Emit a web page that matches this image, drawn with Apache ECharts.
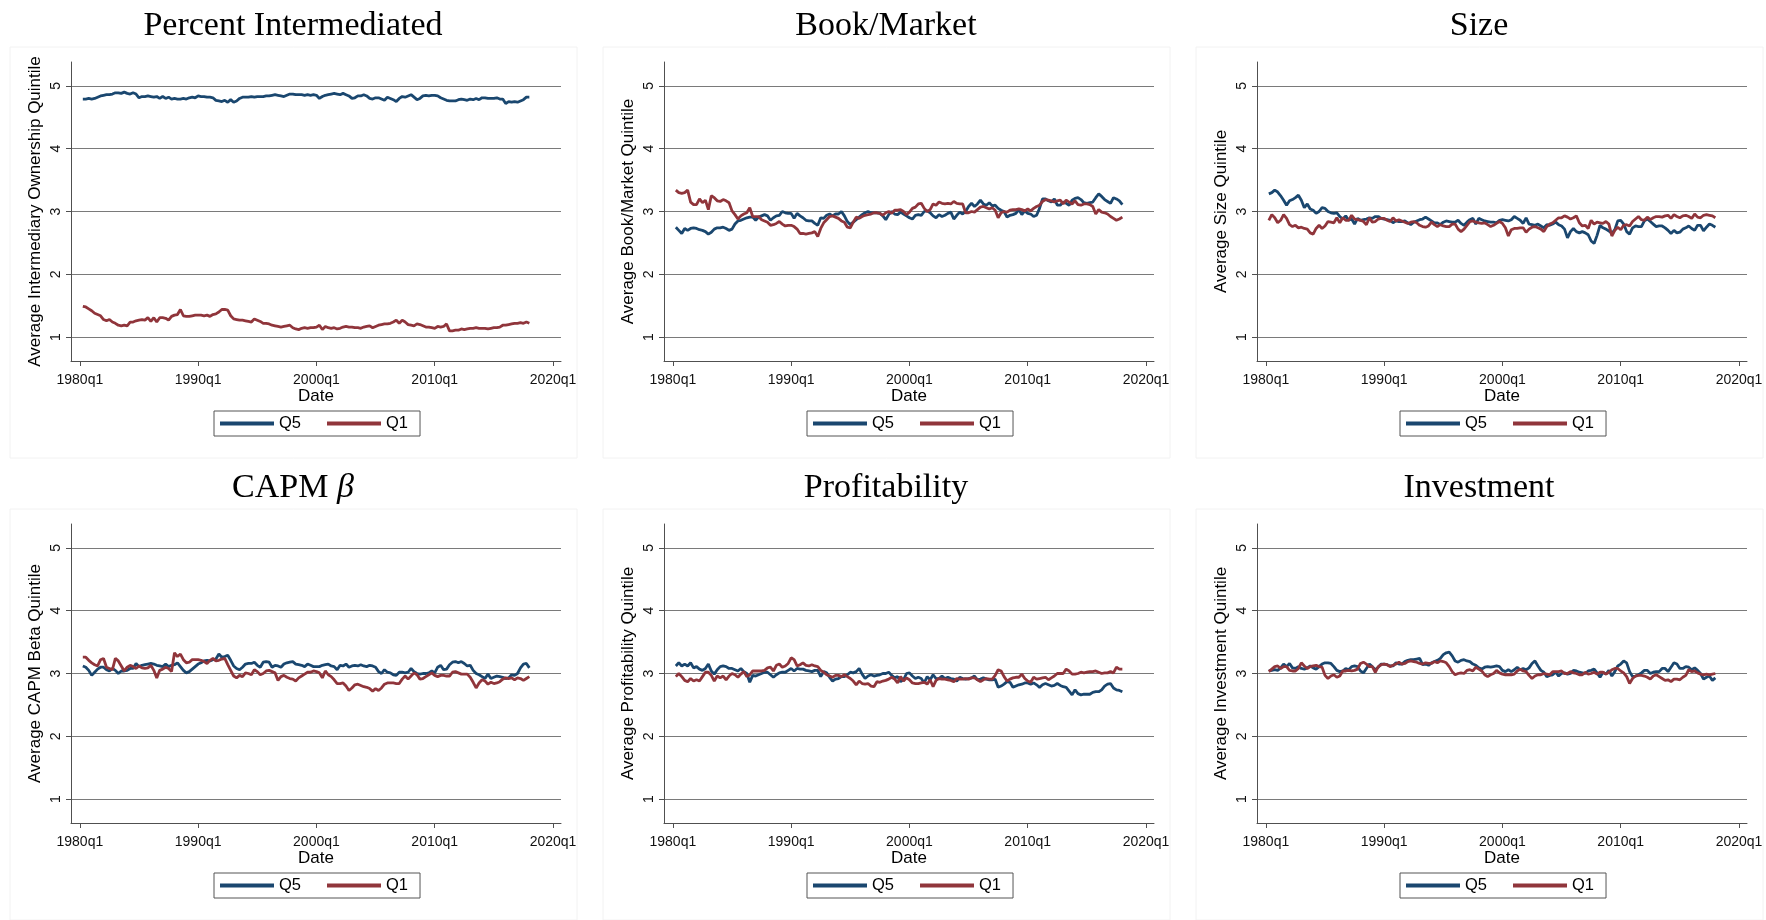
<!DOCTYPE html>
<html>
<head>
<meta charset="utf-8">
<title>Quintile characteristics over time</title>
<script src="https://cdn.jsdelivr.net/npm/echarts@6/dist/echarts.min.js"></script>
<style>
  html, body { margin: 0; padding: 0; background: #ffffff; }
  #chart { width: 1766px; height: 920px; }
</style>
</head>
<body>
<div id="chart"></div>
<script>
// Stata-style quarterly index: 1960q1 = 0, so 1980q2 = 81
const firstQuarter = 81;
const xTickQuarters = [80, 120, 160, 200, 240];
const yTicks = [1, 2, 3, 4, 5];
const seriesNames = ['Q5', 'Q1'];

const panelTitles = ['Percent Intermediated', 'Book/Market', 'Size', 'CAPM \u03b2', 'Profitability', 'Investment'];
const axisTitles = [
  'Average Intermediary Ownership Quintile',
  'Average Book/Market Quintile',
  'Average Size Quintile',
  'Average CAPM Beta Quintile',
  'Average Profitability Quintile',
  'Average Investment Quintile'
];

// Percent intermediated, 1980q2 - 2018q1
const pctQ5 = [
  4.79,4.79,4.80,
  4.79,4.80,4.82,4.84, 4.85,4.86,4.86,4.87, 4.89,4.89,4.88,4.90, 4.88,4.87,4.89,4.87,
  4.81,4.83,4.83,4.84, 4.83,4.82,4.83,4.80, 4.83,4.80,4.82,4.79, 4.80,4.79,4.79,4.80,
  4.79,4.81,4.82,4.81, 4.84,4.83,4.83,4.82, 4.82,4.81,4.77,4.76, 4.75,4.77,4.74,4.78,
  4.74,4.76,4.80,4.82, 4.82,4.82,4.83,4.82, 4.83,4.83,4.83,4.84, 4.84,4.85,4.86,4.85,
  4.84,4.83,4.85,4.87, 4.87,4.86,4.86,4.86, 4.85,4.86,4.85,4.86, 4.85,4.80,4.83,4.85,
  4.86,4.87,4.88,4.87, 4.86,4.88,4.86,4.84, 4.80,4.81,4.84,4.84, 4.86,4.84,4.80,4.79,
  4.81,4.81,4.79,4.77, 4.82,4.80,4.78,4.75, 4.80,4.83,4.82,4.84, 4.86,4.82,4.78,4.80,
  4.84,4.85,4.84,4.85, 4.85,4.84,4.81,4.79, 4.77,4.76,4.76,4.76, 4.78,4.79,4.78,4.77,
  4.79,4.78,4.80,4.78, 4.81,4.81,4.80,4.80, 4.80,4.81,4.79,4.79, 4.72,4.75,4.74,4.75,
  4.74,4.76,4.78,4.82,
  4.82
];
const pctQ1 = [
  1.49,1.48,1.45,
  1.42,1.38,1.36,1.34, 1.28,1.26,1.28,1.24, 1.22,1.19,1.18,1.19, 1.18,1.24,1.24,1.26,
  1.27,1.28,1.27,1.31, 1.25,1.31,1.24,1.31, 1.31,1.30,1.27,1.33, 1.35,1.36,1.44,1.34,
  1.33,1.33,1.34,1.35, 1.35,1.35,1.34,1.35, 1.33,1.36,1.37,1.40, 1.44,1.44,1.43,1.34,
  1.29,1.28,1.27,1.27, 1.26,1.25,1.24,1.29, 1.27,1.25,1.22,1.22, 1.21,1.19,1.18,1.17,
  1.16,1.17,1.18,1.19, 1.15,1.13,1.12,1.14, 1.15,1.14,1.15,1.15, 1.16,1.19,1.12,1.17,
  1.15,1.14,1.15,1.13, 1.14,1.16,1.17,1.16, 1.16,1.15,1.15,1.14, 1.16,1.17,1.18,1.15,
  1.17,1.19,1.20,1.21, 1.21,1.22,1.24,1.27, 1.22,1.27,1.24,1.20, 1.19,1.18,1.21,1.20,
  1.18,1.16,1.16,1.15, 1.14,1.17,1.16,1.17, 1.21,1.10,1.10,1.11, 1.11,1.13,1.12,1.13,
  1.14,1.14,1.15,1.14, 1.14,1.14,1.13,1.14, 1.15,1.15,1.16,1.19, 1.19,1.20,1.21,1.22,
  1.22,1.23,1.22,1.24,
  1.22
];

// Book/market
const bmQ5 = [
  2.75,2.70,2.65,
  2.73,2.70,2.73,2.74, 2.73,2.71,2.70,2.68, 2.64,2.67,2.72,2.74, 2.74,2.75,2.73,2.70,
  2.72,2.80,2.85,2.86, 2.88,2.90,2.91,2.91, 2.86,2.91,2.93,2.95, 2.93,2.86,2.90,2.93,
  2.94,3.00,2.98,2.97, 2.97,2.89,2.97,2.93, 2.90,2.86,2.85,2.85, 2.81,2.78,2.90,2.89,
  2.94,2.96,2.93,2.96, 2.96,3.00,2.93,2.84, 2.79,2.83,2.87,2.91, 2.95,2.98,3.00,2.98,
  2.98,2.98,2.97,2.93, 2.87,2.95,3.00,2.96, 2.95,2.99,2.96,2.93, 2.90,2.88,2.94,2.95,
  2.94,3.00,3.01,2.98, 2.93,2.90,2.95,2.92, 2.94,2.97,2.99,2.88, 2.94,2.99,2.96,3.00,
  3.08,3.13,3.08,3.12, 3.18,3.12,3.10,3.14, 3.09,3.10,3.05,3.02, 3.00,2.91,2.94,2.95,
  2.97,3.03,2.95,3.01, 2.97,2.96,2.92,2.94, 3.05,3.20,3.20,3.17, 3.15,3.20,3.10,3.10,
  3.15,3.13,3.10,3.18, 3.21,3.22,3.19,3.14, 3.13,3.14,3.15,3.22, 3.28,3.24,3.19,3.16,
  3.13,3.22,3.20,3.17,
  3.11
];
const bmQ1 = [
  3.34,3.30,3.29,
  3.30,3.34,3.15,3.11, 3.11,3.20,3.14,3.18, 3.03,3.25,3.22,3.17, 3.16,3.19,3.17,3.14,
  3.01,2.95,2.88,2.93, 2.96,2.98,3.06,2.92, 2.92,2.92,2.87,2.85, 2.83,2.78,2.79,2.81,
  2.84,2.80,2.77,2.78, 2.78,2.76,2.72,2.65, 2.65,2.64,2.65,2.66, 2.68,2.60,2.73,2.82,
  2.87,2.92,2.93,2.91, 2.89,2.85,2.83,2.75, 2.74,2.83,2.91,2.89, 2.92,2.94,2.95,2.96,
  2.98,2.98,2.97,2.94, 2.98,3.00,2.97,3.02, 3.02,3.03,3.00,2.95, 2.99,3.05,3.07,3.12,
  3.13,3.05,3.00,3.03, 3.12,3.10,3.15,3.13, 3.12,3.13,3.12,3.16, 3.13,3.12,3.12,2.98,
  2.98,3.00,2.99,3.03, 3.07,3.08,3.06,3.04, 3.06,3.02,2.90,2.98, 3.00,2.99,3.02,3.03,
  3.03,3.04,3.03,3.01, 3.04,3.01,3.05,3.08, 3.10,3.16,3.19,3.18, 3.17,3.15,3.17,3.18,
  3.12,3.18,3.15,3.12, 3.17,3.11,3.10,3.12, 3.12,3.11,3.08,2.96, 3.03,2.99,2.98,2.96,
  2.92,2.89,2.86,2.88,
  2.91
];

// Size
const sizeQ5 = [
  3.28,3.30,3.34,
  3.31,3.25,3.18,3.10, 3.17,3.19,3.22,3.26, 3.18,3.06,3.12,3.04, 3.02,2.97,3.00,3.06,
  3.05,3.00,2.98,2.97, 2.98,2.92,2.88,2.93, 2.86,2.88,2.80,2.89, 2.86,2.87,2.88,2.90,
  2.89,2.92,2.92,2.89, 2.88,2.87,2.86,2.82, 2.85,2.84,2.84,2.85, 2.82,2.79,2.83,2.85,
  2.87,2.88,2.91,2.88, 2.85,2.82,2.82,2.79, 2.83,2.85,2.84,2.83, 2.83,2.86,2.81,2.78,
  2.83,2.87,2.89,2.80, 2.89,2.87,2.85,2.84, 2.83,2.83,2.82,2.86, 2.87,2.86,2.85,2.87,
  2.92,2.89,2.86,2.81, 2.90,2.80,2.79,2.78, 2.80,2.77,2.74,2.79, 2.78,2.80,2.83,2.79,
  2.77,2.72,2.58,2.68, 2.73,2.68,2.66,2.68, 2.66,2.63,2.53,2.49, 2.62,2.78,2.74,2.72,
  2.69,2.65,2.71,2.85, 2.86,2.80,2.68,2.64, 2.74,2.77,2.76,2.76, 2.85,2.88,2.84,2.80,
  2.76,2.77,2.77,2.74, 2.70,2.65,2.70,2.66, 2.67,2.72,2.74,2.77, 2.73,2.70,2.78,2.78,
  2.69,2.75,2.80,2.78,
  2.75
];
const sizeQ1 = [
  2.86,2.95,2.90,
  2.82,2.86,2.95,2.89, 2.79,2.76,2.78,2.74, 2.75,2.73,2.72,2.66, 2.64,2.73,2.78,2.73,
  2.77,2.84,2.83,2.82, 2.90,2.82,2.90,2.86, 2.86,2.94,2.88,2.87, 2.86,2.84,2.79,2.90,
  2.83,2.84,2.88,2.89, 2.89,2.86,2.84,2.90, 2.85,2.87,2.85,2.83, 2.81,2.83,2.84,2.82,
  2.78,2.76,2.75,2.77, 2.83,2.79,2.76,2.79, 2.77,2.76,2.76,2.80, 2.80,2.72,2.68,2.72,
  2.78,2.84,2.85,2.83, 2.82,2.81,2.82,2.79, 2.76,2.78,2.81,2.84, 2.81,2.74,2.61,2.71,
  2.73,2.73,2.74,2.74, 2.67,2.72,2.75,2.76, 2.74,2.72,2.68,2.76, 2.80,2.82,2.86,2.90,
  2.90,2.93,2.91,2.88, 2.90,2.93,2.82,2.77, 2.78,2.73,2.86,2.80, 2.83,2.82,2.81,2.84,
  2.80,2.61,2.70,2.75, 2.71,2.78,2.79,2.77, 2.84,2.88,2.92,2.87, 2.86,2.91,2.87,2.90,
  2.92,2.92,2.91,2.93, 2.94,2.89,2.95,2.92, 2.90,2.93,2.94,2.92, 2.89,2.96,2.91,2.90,
  2.94,2.95,2.94,2.93,
  2.90
];

// CAPM beta
const betaQ5 = [
  3.12,3.10,3.05,
  2.97,3.02,3.07,3.10, 3.10,3.06,3.04,3.08, 3.05,3.00,3.04,3.04, 3.05,3.08,3.08,3.16,
  3.11,3.13,3.14,3.15, 3.16,3.15,3.13,3.12, 3.11,3.15,3.11,3.13, 3.14,3.17,3.11,3.05,
  3.01,3.03,3.07,3.11, 3.15,3.17,3.20,3.21, 3.20,3.22,3.23,3.31, 3.26,3.27,3.29,3.21,
  3.12,3.08,3.06,3.10, 3.15,3.16,3.16,3.18, 3.13,3.10,3.18,3.19, 3.18,3.10,3.13,3.12,
  3.10,3.15,3.17,3.18, 3.19,3.15,3.14,3.13, 3.11,3.15,3.13,3.11, 3.11,3.11,3.13,3.14,
  3.15,3.12,3.11,3.06, 3.13,3.12,3.15,3.10, 3.12,3.13,3.12,3.14, 3.12,3.11,3.13,3.12,
  3.10,3.03,3.00,3.06, 3.02,3.01,2.98,2.97, 3.02,3.02,3.01,3.02, 3.08,3.03,3.00,2.99,
  3.00,3.00,3.01,3.04, 3.01,3.10,3.13,3.06, 3.07,3.14,3.18,3.19, 3.17,3.19,3.16,3.12,
  3.13,3.05,3.00,2.98, 2.95,2.92,2.99,2.92, 2.94,2.96,2.95,2.94, 2.92,2.93,2.98,2.97,
  3.00,3.09,3.15,3.16,
  3.09
];
const betaQ1 = [
  3.26,3.26,3.21,
  3.17,3.14,3.12,3.22, 3.24,3.10,3.08,3.06, 3.24,3.20,3.12,3.04, 3.10,3.13,3.11,3.08,
  3.12,3.09,3.08,3.09, 3.13,3.05,2.93,3.05, 3.07,3.10,3.08,3.03, 3.33,3.27,3.31,3.22,
  3.17,3.18,3.22,3.22, 3.22,3.21,3.19,3.16, 3.21,3.24,3.20,3.21, 3.23,3.24,3.14,3.05,
  2.96,2.93,2.97,2.95, 3.01,3.00,2.98,3.06, 3.03,2.98,3.00,3.04, 3.05,3.03,3.01,2.89,
  2.95,2.97,2.94,2.92, 2.91,2.88,2.93,2.96, 2.99,3.02,3.02,3.04, 3.03,3.01,2.93,3.04,
  2.98,2.95,2.90,2.84, 2.84,2.85,2.80,2.73, 2.77,2.82,2.83,2.81, 2.79,2.78,2.76,2.72,
  2.76,2.73,2.77,2.83, 2.85,2.85,2.85,2.84, 2.84,2.91,2.96,2.91, 2.96,3.01,2.98,2.91,
  2.92,2.95,2.98,3.01, 2.97,2.95,2.97,2.97, 2.96,2.96,3.02,3.03, 3.01,2.99,2.99,2.99,
  2.94,2.86,2.77,2.85, 2.90,2.88,2.83,2.86, 2.84,2.85,2.87,2.91, 2.93,2.92,2.93,2.90,
  2.93,2.92,2.89,2.92,
  2.95
];

// Profitability
const profQ5 = [
  3.12,3.17,3.12,
  3.15,3.12,3.17,3.09, 3.11,3.07,3.05,3.08, 3.15,3.04,2.99,3.06, 3.11,3.12,3.11,3.08,
  3.08,3.06,3.04,3.08, 3.03,3.00,2.86,2.97, 2.96,2.98,3.00,3.02, 3.02,2.98,2.94,2.98,
  3.01,3.02,3.02,3.05, 3.08,3.04,3.08,3.07, 3.07,3.05,3.04,3.03, 3.05,3.05,2.95,3.03,
  3.01,2.94,2.88,2.91, 2.92,2.95,2.95,2.98, 3.02,3.01,3.03,3.08, 2.99,2.92,2.96,2.98,
  2.96,2.97,2.98,3.00, 3.00,3.02,2.97,2.93, 2.95,2.87,2.90,3.00, 3.01,2.96,2.92,2.94,
  2.92,2.85,2.95,2.90, 2.98,2.92,2.92,2.96, 2.92,2.94,2.92,2.91, 2.88,2.94,2.92,2.91,
  2.92,2.93,2.96,2.90, 2.91,2.93,2.91,2.90, 2.90,2.91,2.78,2.80, 2.83,2.87,2.86,2.78,
  2.80,2.82,2.83,2.85, 2.85,2.83,2.85,2.82, 2.78,2.82,2.84,2.82, 2.80,2.81,2.84,2.81,
  2.79,2.78,2.72,2.66, 2.74,2.68,2.66,2.67, 2.67,2.67,2.70,2.71, 2.71,2.74,2.80,2.83,
  2.84,2.77,2.74,2.73,
  2.71
];
const profQ1 = [
  2.95,3.00,2.95,
  2.89,2.87,2.92,2.88, 2.90,2.88,2.95,3.02, 3.02,2.97,2.88,2.96, 2.93,2.96,2.90,2.96,
  3.00,2.98,2.94,2.99, 3.03,2.95,2.98,3.04, 3.04,3.04,3.04,3.05, 3.09,3.10,3.04,3.13,
  3.15,3.10,3.12,3.16, 3.25,3.22,3.12,3.14, 3.17,3.13,3.12,3.14, 3.12,3.11,3.05,3.02,
  2.98,2.96,2.94,2.97, 2.97,2.95,2.98,2.95, 2.92,2.88,2.82,2.88, 2.84,2.83,2.84,2.80,
  2.79,2.87,2.86,2.88, 2.89,2.91,2.94,2.91, 2.85,2.95,2.88,2.93, 2.90,2.85,2.84,2.84,
  2.85,2.86,2.83,2.90, 2.79,2.89,2.92,2.91, 2.91,2.90,2.89,2.87, 2.92,2.91,2.91,2.92,
  2.91,2.93,2.93,2.90, 2.87,2.90,2.92,2.91, 2.91,2.97,3.06,3.04, 2.95,2.88,2.91,2.93,
  2.94,2.94,2.99,2.92, 2.88,2.86,2.94,2.91, 2.92,2.93,2.94,2.90, 2.93,2.96,3.00,3.00,
  3.00,3.07,3.04,2.99, 2.99,3.00,3.02,3.01, 3.02,3.03,3.03,3.04, 3.02,3.00,3.01,3.01,
  3.03,3.01,3.10,3.07,
  3.07
];

// Investment
const invQ5 = [
  3.04,3.05,3.06,
  3.05,3.09,3.15,3.11, 3.16,3.09,3.08,3.11, 3.08,3.07,3.09,3.12, 3.09,3.07,3.11,3.15,
  3.17,3.17,3.16,3.11, 3.05,3.03,3.04,3.08, 3.06,3.11,3.12,3.11, 3.04,3.01,3.08,3.15,
  3.11,3.06,3.10,3.15, 3.15,3.14,3.12,3.12, 3.17,3.15,3.15,3.19, 3.21,3.22,3.22,3.23,
  3.24,3.14,3.15,3.13, 3.17,3.19,3.21,3.24, 3.30,3.33,3.34,3.28, 3.20,3.18,3.21,3.22,
  3.20,3.19,3.15,3.13, 3.09,3.07,3.10,3.11, 3.10,3.11,3.12,3.11, 3.05,3.03,3.06,3.03,
  3.06,3.10,3.06,3.08, 3.06,3.09,3.16,3.20, 3.12,3.05,3.02,2.95, 2.97,2.98,3.02,2.96,
  3.00,3.01,2.99,3.00, 3.05,3.04,3.02,3.01, 3.00,3.04,3.05,3.07, 3.01,2.94,3.02,2.99,
  3.05,2.96,3.03,3.12, 3.15,3.20,3.17,3.03, 2.95,2.96,2.98,3.01, 3.05,3.05,3.00,3.02,
  3.03,3.03,3.08,3.08, 3.03,3.10,3.17,3.15, 3.08,3.08,3.11,3.10, 3.06,3.09,3.05,3.00,
  2.91,2.94,2.96,2.89,
  2.93
];
const invQ1 = [
  3.03,3.07,3.11,
  3.12,3.08,3.11,3.11, 3.05,3.04,3.04,3.08, 3.17,3.12,3.08,3.11, 3.12,3.13,3.11,3.10,
  2.97,2.92,2.96,2.98, 2.94,2.96,3.04,3.04, 3.05,3.04,3.05,3.07, 3.16,3.18,3.15,3.11,
  3.11,3.02,3.11,3.14, 3.15,3.14,3.11,3.13, 3.15,3.18,3.15,3.16, 3.19,3.20,3.19,3.18,
  3.16,3.15,3.17,3.16, 3.16,3.19,3.17,3.20, 3.19,3.17,3.11,3.03, 2.98,3.00,3.01,3.00,
  3.05,3.06,3.04,3.10, 3.07,3.04,2.98,2.95, 2.98,3.00,3.05,3.01, 2.99,2.98,2.98,2.98,
  2.99,3.04,3.07,3.04, 3.03,2.97,2.92,2.96, 2.98,2.98,3.00,2.99, 2.98,3.03,3.03,3.03,
  3.04,3.00,3.00,3.03, 3.01,3.00,2.98,2.98, 3.02,2.99,3.00,3.02, 2.99,3.02,3.02,2.99,
  3.02,3.06,3.08,3.08, 3.04,3.01,2.95,2.84, 2.92,2.96,2.97,2.97, 2.96,2.94,2.91,2.96,
  2.98,2.95,2.92,2.89, 2.90,2.87,2.91,2.91, 2.90,2.94,2.97,3.06, 3.03,3.04,3.01,2.99,
  2.98,2.99,2.98,2.99,
  3.00
];

const panelData = [
  [pctQ5, pctQ1],
  [bmQ5, bmQ1],
  [sizeQ5, sizeQ1],
  [betaQ5, betaQ1],
  [profQ5, profQ1],
  [invQ5, invQ1]
];

const lineColors = ['#1a476f', '#90353b'];
const sansFont = '"Liberation Sans", Arial, Helvetica, sans-serif';
const serifFont = '"Liberation Serif", "Times New Roman", serif';

function quarterLabel(q) {
  const year = 1960 + Math.floor(q / 4);
  return year + 'q' + ((q % 4) + 1);
}

function toPairs(values) {
  return values.map((v, i) => [firstQuarter + i, v]);
}

// Panel geometry on the 1766 x 920 canvas
const colStep = 593, rowStep = 462;
const plotLeft = 71, plotTop = 62, plotW = 490, plotH = 299;

const grids = [], xAxes = [], yAxes = [], series = [], legends = [], graphics = [];

panelData.forEach((pair, p) => {
  const c = p % 3, r = Math.floor(p / 3);
  const ox = c * colStep, oy = r * rowStep;

  grids.push({
    left: plotLeft + ox, top: plotTop + oy, width: plotW, height: plotH,
    containLabel: false, outerBoundsMode: 'none'
  });

  xAxes.push({
    type: 'value', gridIndex: p, min: 77, max: 242.7,
    name: 'Date', nameLocation: 'middle', nameGap: 27,
    nameTextStyle: { fontFamily: sansFont, fontSize: 17, color: '#000' },
    axisLine: { show: true, onZero: false, lineStyle: { color: '#505050', width: 1 } },
    axisTick: { show: true, length: 5, customValues: xTickQuarters, lineStyle: { color: '#505050', width: 1 } },
    axisLabel: {
      customValues: xTickQuarters, formatter: quarterLabel, margin: 12,
      fontFamily: sansFont, fontSize: 14, color: '#111'
    },
    splitLine: { show: false }
  });

  yAxes.push({
    type: 'value', gridIndex: p, min: 0.62, max: 5.38,
    name: axisTitles[p], nameLocation: 'middle', nameGap: 27,
    nameTextStyle: { fontFamily: sansFont, fontSize: 17, color: '#000' },
    axisLine: { show: true, onZero: false, lineStyle: { color: '#505050', width: 1 } },
    axisTick: { show: true, length: 5, customValues: yTicks, lineStyle: { color: '#505050', width: 1 } },
    axisLabel: {
      customValues: yTicks, rotate: 90, margin: 8,
      fontFamily: sansFont, fontSize: 14, color: '#111'
    },
    splitLine: { show: true, lineStyle: { color: '#7a7a7a', width: 1.2 } }
  });

  pair.forEach((values, k) => {
    series.push({
      name: seriesNames[k], type: 'line', xAxisIndex: p, yAxisIndex: p,
      data: toPairs(values), showSymbol: false, symbol: 'none',
      lineStyle: { color: lineColors[k], width: 2.8 },
      itemStyle: { color: lineColors[k] },
      z: 3 + k, animation: false
    });
  });

  legends.push({
    data: seriesNames, left: 214 + ox, top: 411 + oy, orient: 'horizontal',
    icon: 'rect', itemWidth: 54, itemHeight: 4, itemGap: 26,
    padding: [4, 12, 4, 6], borderColor: '#555', borderWidth: 1, backgroundColor: '#fff',
    textStyle: { fontFamily: sansFont, fontSize: 16.5, color: '#000' },
    selectedMode: false
  });

  // faint frame around each panel
  graphics.push({
    type: 'rect', z: -10,
    shape: { x: 10 + ox, y: 47 + oy, width: 567, height: 411 },
    style: { fill: 'none', stroke: '#f2f2f2', lineWidth: 1 }
  });

  // panel title
  const isBeta = p === 3;
  graphics.push({
    type: 'text', x: 293 + ox, y: 26 + oy,
    style: {
      text: isBeta ? '{n|CAPM }{b|\u03b2}' : panelTitles[p],
      font: '34px ' + serifFont, fontSize: 34, fontFamily: serifFont,
      fill: '#000', align: 'center', verticalAlign: 'middle',
      textAlign: 'center', textVerticalAlign: 'middle',
      rich: isBeta ? {
        n: { fontSize: 34, fontFamily: serifFont, fill: '#000', color: '#000' },
        b: { fontSize: 34, fontFamily: serifFont, fontStyle: 'italic', fill: '#000', color: '#000' }
      } : undefined
    }
  });
});

const chart = echarts.init(document.getElementById('chart'), null, { renderer: 'canvas' });
chart.setOption({
  backgroundColor: '#ffffff',
  animation: false,
  grid: grids,
  xAxis: xAxes,
  yAxis: yAxes,
  legend: legends,
  series: series,
  graphic: graphics
});
</script>
</body>
</html>
